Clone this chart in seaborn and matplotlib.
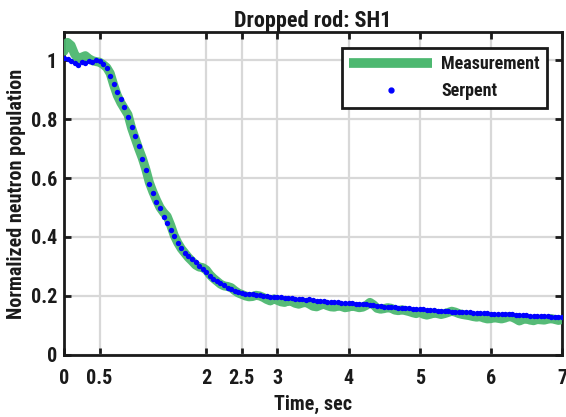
import numpy as np
import pandas as pd
import matplotlib
matplotlib.use("Agg")
import matplotlib.pyplot as plt
import seaborn as sns
from matplotlib import font_manager
from matplotlib.lines import Line2D

title = "Dropped rod: SH1"
xlabel = "Time, sec"
ylabel = "Normalized neutron population"
xticks = [0, 0.5, 2, 2.5, 3, 4, 5, 6, 7]
xticklabels = ["0", "0.5", "2", "2.5", "3", "4", "5", "6", "7"]
yticks = [0, 0.2, 0.4, 0.6, 0.8, 1.0]
yticklabels = ["0", "0.2", "0.4", "0.6", "0.8", "1"]

time = np.round(np.arange(0, 7.0001, 0.05), 2)

measurement = [
    1.03, 1.06, 1.05, 1.02, 1.005, 1.01, 1.015, 1.005, 0.998, 0.995,
    0.993, 0.985, 0.975, 0.955, 0.915, 0.880, 0.855, 0.835, 0.815, 0.770,
    0.735, 0.700, 0.668, 0.630, 0.585, 0.553, 0.525, 0.500, 0.483, 0.470,
    0.440, 0.405, 0.380, 0.360, 0.345, 0.330, 0.318, 0.305, 0.298, 0.296,
    0.288, 0.272, 0.260, 0.250, 0.240, 0.234, 0.232, 0.228, 0.218, 0.210,
    0.205, 0.200, 0.197, 0.198, 0.202, 0.200, 0.195, 0.188, 0.183, 0.190,
    0.185, 0.180, 0.178, 0.183, 0.181, 0.175, 0.172, 0.176, 0.178, 0.172,
    0.165, 0.163, 0.168, 0.172, 0.167, 0.163, 0.162, 0.166, 0.164, 0.160,
    0.162, 0.166, 0.163, 0.160, 0.162, 0.168, 0.178, 0.170, 0.158, 0.155,
    0.157, 0.160, 0.158, 0.152, 0.150, 0.153, 0.150, 0.147, 0.143, 0.140,
    0.145, 0.138, 0.135, 0.138, 0.142, 0.140, 0.137, 0.140, 0.144, 0.148,
    0.145, 0.140, 0.137, 0.135, 0.133, 0.130, 0.128, 0.130, 0.125, 0.122,
    0.123, 0.126, 0.124, 0.122, 0.125, 0.130, 0.128, 0.122, 0.115, 0.120,
    0.122, 0.118, 0.116, 0.120, 0.119, 0.118, 0.121, 0.123, 0.120, 0.117,
    0.120,
]

serpent = [
    1.007, 1.003, 0.997, 0.990, 0.985, 0.994, 0.990, 0.997, 0.993, 0.999,
    0.996, 0.988, 0.972, 0.945, 0.918, 0.893, 0.868, 0.842, 0.806, 0.774,
    0.741, 0.708, 0.664, 0.628, 0.580, 0.548, 0.520, 0.498, 0.468, 0.448,
    0.425, 0.404, 0.380, 0.362, 0.345, 0.336, 0.324, 0.315, 0.300, 0.290,
    0.280, 0.268, 0.258, 0.250, 0.243, 0.236, 0.228, 0.222, 0.217, 0.213,
    0.210, 0.207, 0.206, 0.206, 0.203, 0.203, 0.200, 0.199, 0.198, 0.197,
    0.196, 0.196, 0.194, 0.194, 0.192, 0.191, 0.190, 0.189, 0.187, 0.188,
    0.185, 0.184, 0.183, 0.182, 0.180, 0.181, 0.178, 0.178, 0.177, 0.176,
    0.175, 0.175, 0.173, 0.172, 0.171, 0.171, 0.168, 0.168, 0.166, 0.166,
    0.164, 0.163, 0.162, 0.162, 0.160, 0.159, 0.158, 0.158, 0.156, 0.155,
    0.154, 0.154, 0.152, 0.151, 0.151, 0.150, 0.149, 0.149, 0.148, 0.147,
    0.146, 0.146, 0.145, 0.144, 0.144, 0.143, 0.143, 0.142, 0.142, 0.141,
    0.140, 0.140, 0.139, 0.138, 0.138, 0.137, 0.137, 0.136, 0.135, 0.135,
    0.134, 0.133, 0.133, 0.132, 0.132, 0.131, 0.131, 0.130, 0.129, 0.129,
    0.128,
]

df = pd.DataFrame({"time": time, "measurement": measurement, "serpent": serpent})

sns.set_theme(style="white")
installed = {f.name for f in font_manager.fontManager.ttflist}
fam = "Liberation Sans"
for cand in ["Liberation Sans Narrow", "Roboto Condensed", "Arial Narrow",
             "Barlow Semi Condensed", "Asap Condensed"]:
    if cand in installed:
        fam = cand
        break
plt.rcParams["font.family"] = [fam, "DejaVu Sans"]
plt.rcParams["font.weight"] = "bold"

green = "#4db870"
blue = "#0000ff"
ink = "#1a1a1a"
fs = 14.5

fig = plt.figure(figsize=(5.66, 4.17), dpi=100)
ax = fig.add_axes([0.113, 0.149, 0.880, 0.774])

sns.lineplot(data=df, x="time", y="measurement", ax=ax, color=green,
             linewidth=6.5, alpha=0.95, solid_capstyle="round", zorder=3)
sns.scatterplot(data=df, x="time", y="serpent", ax=ax, color=blue,
                s=15, linewidth=0, zorder=4)

ax.set_xlim(0, 7)
ax.set_ylim(0, 1.095)
ax.set_xticks(xticks)
ax.set_xticklabels(xticklabels)
ax.set_yticks(yticks)
ax.set_yticklabels(yticklabels)
ax.grid(True, color="#d8d8d8", linewidth=1.6)
ax.set_axisbelow(True)
for s in ax.spines.values():
    s.set_color(ink)
    s.set_linewidth(2.0)
    s.set_visible(True)
ax.tick_params(direction="in", length=5, width=2.0, color=ink,
               top=True, right=True, bottom=True, left=True,
               labelsize=fs, labelcolor=ink)
ax.tick_params(axis="x", pad=10)
ax.tick_params(axis="y", pad=5)
for lab in ax.get_xticklabels() + ax.get_yticklabels():
    lab.set_fontweight("bold")

ax.set_title(title, fontsize=16, fontweight="bold", color=ink, pad=4)
ax.set_xlabel(xlabel, fontsize=fs, fontweight="bold", color=ink, labelpad=5)
ax.set_ylabel(ylabel, fontsize=fs, fontweight="bold", color=ink, labelpad=3)

handles = [
    Line2D([0], [0], color=green, linewidth=7.0, solid_capstyle="butt"),
    Line2D([0], [0], color=blue, marker="o", linestyle="none", markersize=3.5),
]
leg = ax.legend(handles, ["Measurement", "Serpent"], loc="upper right",
                bbox_to_anchor=(0.97, 0.95), borderaxespad=0,
                fancybox=False, framealpha=1,
                edgecolor=ink, handlelength=4.6, fontsize=13,
                borderpad=0.4, labelspacing=0.5, handletextpad=0.5)
leg.get_frame().set_linewidth(2.0)
for t in leg.get_texts():
    t.set_fontweight("bold")
    t.set_color(ink)

fig.savefig("out.png", dpi=100)
